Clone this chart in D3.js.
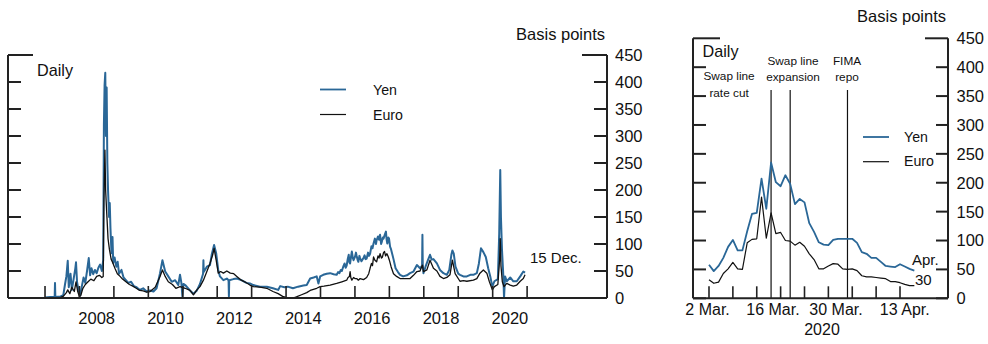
<!DOCTYPE html>
<html><head><meta charset="utf-8">
<script src="https://cdn.jsdelivr.net/npm/d3@7"></script>
<style>
html,body{margin:0;padding:0;background:#fff;}
svg{display:block;font-family:"Liberation Sans",Arial,Helvetica,sans-serif;}
</style></head>
<body>
<svg id="c" width="988" height="344"></svg>
<script>
// ---------------- DATA ----------------
// Left panel: daily 2007 - 15 Dec. 2020, [decimal year, basis points]
const yenLong = [
[2007.00,1],[2007.15,2],[2007.28,2],[2007.29,28],[2007.30,2],[2007.45,3],[2007.53,5],[2007.58,25],[2007.62,40],[2007.66,69],
[2007.69,20],[2007.74,45],[2007.78,15],[2007.83,35],[2007.88,55],[2007.90,66],[2007.93,30],[2007.97,15],[2008.02,5],[2008.07,22],
[2008.12,38],[2008.17,28],[2008.22,50],[2008.27,74],[2008.31,42],[2008.35,55],[2008.40,44],[2008.45,52],[2008.50,46],[2008.55,56],
[2008.60,62],[2008.65,50],[2008.69,70],[2008.71,320],[2008.73,395],[2008.75,417],[2008.77,300],[2008.79,390],[2008.81,250],[2008.83,200],
[2008.86,150],[2008.88,176],[2008.90,130],[2008.93,83],[2008.96,113],[2008.98,65],[2009.02,75],[2009.07,58],[2009.11,67],[2009.15,45],
[2009.22,52],[2009.28,38],[2009.35,33],[2009.42,28],[2009.50,30],[2009.58,22],[2009.66,20],[2009.75,15],[2009.85,18],[2009.95,12],
[2010.05,14],[2010.15,12],[2010.24,18],[2010.34,46],[2010.41,70],[2010.49,49],[2010.58,40],[2010.68,30],[2010.78,33],[2010.87,24],
[2010.92,43],[2010.96,28],[2010.99,3],[2011.02,26],[2011.07,24],[2011.21,14],[2011.31,8],[2011.41,14],[2011.50,26],[2011.59,45],
[2011.60,70],[2011.61,48],[2011.70,58],[2011.79,61],[2011.84,80],[2011.91,98],[2011.97,83],[2012.03,52],[2012.08,40],[2012.18,33],
[2012.28,36],[2012.33,33],[2012.34,3],[2012.35,33],[2012.47,35],[2012.57,36],[2012.70,33],[2012.85,28],[2012.95,27],[2013.05,24],
[2013.24,21],[2013.44,21],[2013.62,18],[2013.77,15],[2013.83,22],[2013.95,20],[2014.05,21],[2014.20,18],[2014.35,21],[2014.50,23],
[2014.60,24],[2014.70,36],[2014.80,38],[2014.89,40],[2014.94,27],[2014.99,40],[2015.08,43],[2015.18,45],[2015.28,46],[2015.38,44],
[2015.47,43],[2015.51,48],[2015.55,46],[2015.59,52],[2015.62,50],[2015.66,58],[2015.70,64],[2015.73,56],[2015.76,60],[2015.79,72],
[2015.82,80],[2015.84,66],[2015.86,64],[2015.89,78],[2015.91,86],[2015.94,74],[2015.96,70],[2016.00,76],[2016.03,84],[2016.05,78],
[2016.08,70],[2016.10,67],[2016.13,78],[2016.15,74],[2016.19,68],[2016.24,73],[2016.28,79],[2016.31,72],[2016.34,73],[2016.38,84],
[2016.41,78],[2016.44,82],[2016.48,96],[2016.51,92],[2016.54,101],[2016.58,110],[2016.61,100],[2016.63,107],[2016.67,114],[2016.70,108],
[2016.73,117],[2016.76,100],[2016.78,104],[2016.81,112],[2016.83,110],[2016.87,118],[2016.90,123],[2016.92,108],[2016.94,101],[2016.97,112],
[2016.99,110],[2017.02,95],[2017.05,90],[2017.12,72],[2017.18,55],[2017.25,48],[2017.31,43],[2017.40,40],[2017.51,42],
[2017.60,46],[2017.70,49],[2017.80,61],[2017.89,55],[2017.95,60],[2017.96,117],[2017.97,62],[2017.99,46],[2018.05,58],[2018.12,70],
[2018.18,80],[2018.23,71],[2018.28,72],[2018.38,64],[2018.47,52],[2018.57,46],[2018.67,43],[2018.74,52],[2018.80,80],[2018.83,88],
[2018.87,82],[2018.92,58],[2019.00,45],[2019.05,43],[2019.15,40],[2019.25,40],[2019.35,43],[2019.44,43],[2019.54,46],[2019.60,64],
[2019.66,92],[2019.73,85],[2019.80,76],[2019.87,55],[2019.93,40],[2019.99,21],[2020.05,31],[2020.15,35],[2020.19,120],[2020.22,237],
[2020.24,150],[2020.27,90],[2020.31,40],[2020.33,0],[2020.36,40],[2020.41,31],[2020.51,38],[2020.60,31],[2020.70,31],[2020.80,40],
[2020.89,49],[2020.94,47]
];
const euroLong = [
[2007.00,0],[2007.45,1],[2007.53,3],[2007.62,10],[2007.66,15],[2007.72,8],[2007.78,20],[2007.85,12],[2007.90,30],[2007.95,12],
[2008.00,2],[2008.04,5],[2008.10,18],[2008.17,25],[2008.25,30],[2008.33,35],[2008.42,32],[2008.50,40],[2008.58,42],[2008.65,38],
[2008.69,40],[2008.71,180],[2008.74,274],[2008.76,200],[2008.79,160],[2008.83,110],[2008.87,90],[2008.92,72],[2008.97,65],[2009.03,55],
[2009.10,45],[2009.18,40],[2009.25,35],[2009.35,30],[2009.45,25],[2009.55,22],[2009.65,18],[2009.75,14],[2009.85,13],[2009.95,11],
[2010.05,12],[2010.20,20],[2010.34,40],[2010.41,52],[2010.49,40],[2010.58,30],[2010.70,25],[2010.80,18],[2010.92,21],[2011.07,18],
[2011.21,14],[2011.31,6],[2011.41,15],[2011.50,21],[2011.60,33],[2011.70,49],[2011.79,64],[2011.87,80],[2011.91,92],[2011.97,70],
[2012.03,46],[2012.10,49],[2012.18,46],[2012.28,50],[2012.38,46],[2012.48,45],[2012.57,40],[2012.70,33],[2012.80,30],[2012.95,24],
[2013.05,21],[2013.24,20],[2013.44,18],[2013.62,12],[2013.77,8],[2013.90,3],[2014.00,1],[2014.10,0],[2014.20,0],[2014.30,2],
[2014.45,6],[2014.60,10],[2014.70,14],[2014.89,18],[2014.99,21],[2015.10,22],[2015.28,24],[2015.47,27],[2015.62,30],[2015.76,33],
[2015.80,38],[2015.84,40],[2015.86,49],[2015.88,38],[2015.91,33],[2015.96,38],[2016.00,36],[2016.05,36],[2016.10,33],[2016.15,36],
[2016.25,34],[2016.34,38],[2016.40,45],[2016.44,55],[2016.48,64],[2016.51,60],[2016.54,76],[2016.58,70],[2016.63,67],[2016.67,78],
[2016.70,74],[2016.73,82],[2016.77,74],[2016.80,76],[2016.83,84],[2016.86,86],[2016.89,78],[2016.93,82],[2016.97,76],[2017.00,70],
[2017.05,58],[2017.12,45],[2017.21,40],[2017.31,36],[2017.51,36],[2017.60,36],[2017.70,42],
[2017.80,49],[2017.89,50],[2017.96,61],[2017.99,49],[2018.09,52],[2018.18,70],[2018.28,55],[2018.38,50],[2018.47,40],[2018.57,36],
[2018.67,38],[2018.76,43],[2018.83,70],[2018.91,45],[2019.05,31],[2019.15,32],[2019.25,31],[2019.44,33],[2019.54,36],[2019.63,46],
[2019.73,52],[2019.83,46],[2019.90,31],[2019.99,15],[2020.05,21],[2020.15,25],[2020.20,70],[2020.22,110],[2020.24,60],[2020.28,30],
[2020.33,21],[2020.41,27],[2020.51,24],[2020.60,22],[2020.70,24],[2020.80,31],[2020.89,36],[2020.94,43]
];
const yearTicks = [2007,2008,2009,2010,2011,2012,2013,2014,2015,2016,2017,2018,2019,2020,2021];
const yearLabels = ["2008","2010","2012","2014","2016","2018","2020"];
const yTicks = [0,50,100,150,200,250,300,350,400,450];

// Right panel: daily, 2 Mar. - 30 Apr. 2020 (business days)
const days2020 = ["Mar 2","Mar 3","Mar 4","Mar 5","Mar 6","Mar 9","Mar 10","Mar 11","Mar 12","Mar 13",
"Mar 16","Mar 17","Mar 18","Mar 19","Mar 20","Mar 23","Mar 24","Mar 25","Mar 26","Mar 27","Mar 30","Mar 31",
"Apr 1","Apr 2","Apr 3","Apr 6","Apr 7","Apr 8","Apr 9","Apr 10","Apr 13","Apr 14","Apr 15","Apr 16","Apr 17",
"Apr 20","Apr 21","Apr 22","Apr 23","Apr 24","Apr 27","Apr 28","Apr 29","Apr 30"];
const yen2020 = [58,47,56,70,89,101,83,83,116,146,148,207,155,235,201,194,213,198,163,172,166,130,115,97,93,92,101,103,103,103,103,96,80,77,70,70,63,56,55,54,59,55,51,48];
const euro2020 = [32,26,28,43,51,62,51,50,96,102,103,175,104,148,112,114,100,99,92,97,90,77,67,51,51,56,60,59,51,50,51,48,39,37,37,36,35,34,29,29,27,24,22,22];
const weekTicks = ["Mar 2","Mar 9","Mar 16","Mar 23","Mar 30","Apr 6","Apr 13","Apr 20","Apr 27"];
const dateLabels = ["2 Mar.","16 Mar.","30 Mar.","13 Apr."];
const dateLabelPos = [-0.3,13.4,26.6,41.0];   // position in business-day units
const eventPos = [13,17,29];
const eventText = [["Swap line","rate cut"],["Swap line","expansion"],["FIMA","repo"]];
const eventTextPos = [4.2,17.6,28.9];

// ---------------- DRAW ----------------
const svg = d3.select("#c");
const BLUE = "#2a6797", BLACK = "#111", AX = "#222";

// ---- Left panel ----
const xL = d3.scaleLinear().domain([2005.925, 2023.32]).range([8, 607]);
const yL = d3.scaleLinear().domain([0, 450]).range([298, 55]);
const gL = svg.append("g");

const lineL = d3.line().x(d => xL(d[0])).y(d => yL(d[1]));
gL.append("path").datum(yenLong).attr("d", lineL).attr("fill","none").attr("stroke",BLUE).attr("stroke-width",2).attr("stroke-linejoin","round");
gL.append("path").datum(euroLong).attr("d", lineL).attr("fill","none").attr("stroke",BLACK).attr("stroke-width",1.3).attr("stroke-linejoin","round");

// axes
gL.append("line").attr("x1",xL.range()[0]).attr("x2",xL.range()[1]).attr("y1",yL(0)).attr("y2",yL(0)).attr("stroke",AX).attr("stroke-width",2);
gL.append("line").attr("x1",xL.range()[0]).attr("x2",xL.range()[0]).attr("y1",yL(0)).attr("y2",yL(450)).attr("stroke",AX).attr("stroke-width",2);
gL.append("line").attr("x1",xL.range()[1]).attr("x2",xL.range()[1]).attr("y1",yL(0)).attr("y2",yL(450)).attr("stroke",AX).attr("stroke-width",2);
yTicks.forEach(t => {
  const len = t === 450 ? 25 : 13;
  gL.append("line").attr("x1",xL.range()[0]).attr("x2",xL.range()[0]+len).attr("y1",yL(t)).attr("y2",yL(t)).attr("stroke",AX).attr("stroke-width",2);
  gL.append("line").attr("x1",xL.range()[1]-len).attr("x2",xL.range()[1]).attr("y1",yL(t)).attr("y2",yL(t)).attr("stroke",AX).attr("stroke-width",2);
  gL.append("text").attr("x",615).attr("y",yL(t)).attr("dy","0.36em").attr("font-size",16.5).attr("fill","#111").text(t);
});
yearTicks.forEach(t => {
  gL.append("line").attr("x1",xL(t)).attr("x2",xL(t)).attr("y1",yL(0)).attr("y2",yL(0)-12).attr("stroke",AX).attr("stroke-width",1.6);
});
yearLabels.forEach(l => {
  gL.append("text").attr("x",xL(+l + 0.5)).attr("y",323.5).attr("text-anchor","middle").attr("font-size",16.5).attr("fill","#111").text(l);
});
gL.append("text").attr("x",605).attr("y",40).attr("text-anchor","end").attr("font-size",16.5).attr("fill","#111").text("Basis points");
gL.append("text").attr("x",37).attr("y",76).attr("font-size",16.2).attr("fill","#111").text("Daily");
gL.append("text").attr("x",530).attr("y",262.5).attr("font-size",15).attr("fill","#111").text("15 Dec.");
// legend
gL.append("line").attr("x1",320).attr("x2",346).attr("y1",89.5).attr("y2",89.5).attr("stroke",BLUE).attr("stroke-width",1.8);
gL.append("line").attr("x1",320).attr("x2",346).attr("y1",114.5).attr("y2",114.5).attr("stroke",BLACK).attr("stroke-width",1.2);
gL.append("text").attr("x",373).attr("y",95).attr("font-size",14.2).attr("fill","#111").text("Yen");
gL.append("text").attr("x",373).attr("y",120).attr("font-size",14.2).attr("fill","#111").text("Euro");

// ---- Right panel ----
const xR = d3.scaleLinear().domain([-3.35, 50.05]).range([693, 948]);
const yR = d3.scaleLinear().domain([0, 450]).range([298.3, 38.3]);
const gR = svg.append("g");
const idx = d => days2020.indexOf(d);

// event lines
eventPos.forEach(p => {
  gR.append("line").attr("x1",xR(p)).attr("x2",xR(p)).attr("y1",90).attr("y2",yR(0)).attr("stroke","#111").attr("stroke-width",1.2);
});
const lineR = d3.line().x((d,i) => xR(i)).y(d => yR(d));
gR.append("path").datum(yen2020).attr("d", lineR).attr("fill","none").attr("stroke",BLUE).attr("stroke-width",1.8).attr("stroke-linejoin","round");
gR.append("path").datum(euro2020).attr("d", lineR).attr("fill","none").attr("stroke",BLACK).attr("stroke-width",1.2).attr("stroke-linejoin","round");

gR.append("line").attr("x1",xR.range()[0]).attr("x2",xR.range()[1]).attr("y1",yR(0)).attr("y2",yR(0)).attr("stroke",AX).attr("stroke-width",2);
gR.append("line").attr("x1",xR.range()[0]).attr("x2",xR.range()[0]).attr("y1",yR(0)).attr("y2",yR(450)).attr("stroke",AX).attr("stroke-width",2);
gR.append("line").attr("x1",xR.range()[1]).attr("x2",xR.range()[1]).attr("y1",yR(0)).attr("y2",yR(450)).attr("stroke",AX).attr("stroke-width",2);
yTicks.forEach(t => {
  const lenL = t === 450 ? 27 : 13, lenR = t === 450 ? 23 : 12;
  gR.append("line").attr("x1",xR.range()[0]).attr("x2",xR.range()[0]+lenL).attr("y1",yR(t)).attr("y2",yR(t)).attr("stroke",AX).attr("stroke-width",2);
  gR.append("line").attr("x1",xR.range()[1]-lenR).attr("x2",xR.range()[1]).attr("y1",yR(t)).attr("y2",yR(t)).attr("stroke",AX).attr("stroke-width",2);
  gR.append("text").attr("x",956.5).attr("y",yR(t)).attr("dy","0.36em").attr("font-size",16.5).attr("fill","#111").text(t);
});
weekTicks.forEach(d => {
  gR.append("line").attr("x1",xR(idx(d))).attr("x2",xR(idx(d))).attr("y1",yR(0)).attr("y2",yR(0)-12).attr("stroke",AX).attr("stroke-width",1.6);
});
dateLabels.forEach((l,i) => {
  gR.append("text").attr("x",xR(dateLabelPos[i])).attr("y",315).attr("text-anchor","middle").attr("font-size",16).attr("fill","#111").text(l);
});
gR.append("text").attr("x",822).attr("y",335).attr("text-anchor","middle").attr("font-size",16).attr("fill","#111").text("2020");
gR.append("text").attr("x",946).attr("y",22).attr("text-anchor","end").attr("font-size",16.5).attr("fill","#111").text("Basis points");
gR.append("text").attr("x",702.5).attr("y",57).attr("font-size",16.2).attr("fill","#111").text("Daily");
// event text
const evY = [[80,97],[65,80.5],[65,80.5]];
eventText.forEach((lines,i) => {
  lines.forEach((s,j) => {
    gR.append("text").attr("x",xR(eventTextPos[i])).attr("y",evY[i][j]).attr("text-anchor","middle").attr("font-size",11.8).attr("fill","#111").text(s);
  });
});
// legend
gR.append("line").attr("x1",863).attr("x2",889).attr("y1",137).attr("y2",137).attr("stroke",BLUE).attr("stroke-width",1.8);
gR.append("line").attr("x1",863).attr("x2",889).attr("y1",161.7).attr("y2",161.7).attr("stroke",BLACK).attr("stroke-width",1.2);
gR.append("text").attr("x",904).attr("y",142).attr("font-size",14.2).attr("fill","#111").text("Yen");
gR.append("text").attr("x",904).attr("y",166).attr("font-size",14.2).attr("fill","#111").text("Euro");
// end label
gR.append("text").attr("x",912).attr("y",265).attr("font-size",15).attr("fill","#111").text("Apr.");
gR.append("text").attr("x",915).attr("y",285).attr("font-size",15).attr("fill","#111").text("30");
</script>
</body></html>
